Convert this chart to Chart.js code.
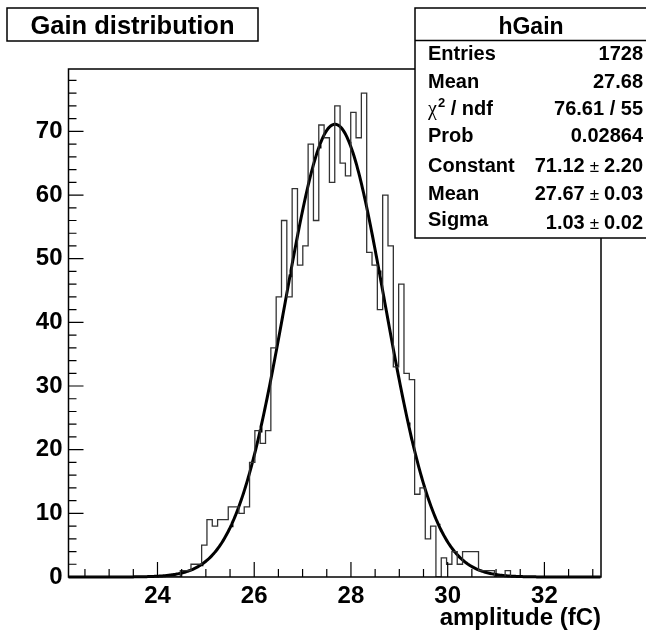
<!DOCTYPE html>
<html>
<head>
<meta charset="utf-8">
<title>Gain distribution</title>
<script src="https://cdn.jsdelivr.net/npm/chart.js@4.4.1/dist/chart.umd.min.js"></script>
<style>
  html, body { margin: 0; padding: 0; background: #fff; }
  #wrap { position: relative; width: 646px; height: 631px; }
</style>
</head>
<body>
<div id="wrap"><canvas id="gain" width="646" height="631"></canvas></div>
<script>
// hGain histogram, 100 bins, counts
const histLow = 22.16
const histHigh = 33.17
const binCounts = [
  0, 0, 0, 0, 0, 0, 0, 0, 0, 0,
  0, 0, 0, 0, 0, 0, 0, 0, 0, 0,
  0, 1, 1, 2, 2, 5, 9, 8, 9, 9,
  11, 11, 10, 11, 18, 23, 21, 23, 36, 44,
  56, 44, 61, 49, 52, 68, 56, 71, 69, 62,
  74, 65, 63, 73, 69, 76, 51, 49, 42, 60,
  52, 33, 46, 32, 31, 13, 14, 6, 8, 0,
  3, 2, 4, 2, 4, 4, 4, 1, 1, 1,
  0, 0, 1, 0, 0, 0, 0, 0, 0, 0,
  0, 0, 0, 0, 0, 0, 0, 0, 0, 0
]
const xTickLabels = [24, 26, 28, 30, 32]
const yTickLabels = [0, 10, 20, 30, 40, 50, 60, 70]
const yMax = 79.8

// gaus fit, parameters as printed in the stats box
const fitConstant = 71.12
const fitMean = 27.67
const fitSigma = 1.03

const statsTitle = "hGain"
const statsLabels = ["Entries", "Mean", "χ2 / ndf", "Prob", "Constant", "Mean", "Sigma"]
const statsValues = ["1728", "27.68", "76.61 / 55", "0.02864", "71.12 ± 2.20", "27.67 ± 0.03", "1.03 ± 0.02"]

const FONT = '"Liberation Sans", Arial, Helvetica, sans-serif'

// ----- build datasets -----
const binWidth = (histHigh - histLow) / binCounts.length
const histPoints = binCounts.map((c, i) => ({ x: histLow + i * binWidth, y: c }))
histPoints.push({ x: histHigh, y: binCounts[binCounts.length - 1] })

const fitPoints = []
for (let x = histLow; x <= histHigh + 1e-9; x += 0.02) {
  const z = (x - fitMean) / fitSigma
  fitPoints.push({ x, y: fitConstant * Math.exp(-0.5 * z * z) })
}

// ----- ROOT-like frame, inward ticks, title box and stats box -----
const rootDecor = {
  id: "rootDecor",
  afterDatasetsDraw(chart) {
    const { ctx, chartArea: a, scales: { x, y } } = chart
    ctx.save()
    ctx.strokeStyle = "#000"
    ctx.lineWidth = 1.5
    ctx.strokeRect(a.left, a.top, a.right - a.left, a.bottom - a.top)

    ctx.lineWidth = 1.2
    ctx.beginPath()
    for (let v = 0; v <= yMax; v += 2) {
      const py = y.getPixelForValue(v)
      const len = v % 10 === 0 ? 15 : 8
      ctx.moveTo(a.left, py)
      ctx.lineTo(a.left + len, py)
    }
    for (let k = Math.ceil(histLow * 2); k <= Math.floor(histHigh * 2); k++) {
      const px = x.getPixelForValue(k / 2)
      const len = k % 4 === 0 ? 15 : 8
      ctx.moveTo(px, a.bottom)
      ctx.lineTo(px, a.bottom - len)
    }
    ctx.stroke()
    ctx.restore()
  },
  afterDraw(chart) {
    const { ctx } = chart
    ctx.save()
    ctx.fillStyle = "#fff"
    ctx.strokeStyle = "#000"
    ctx.lineWidth = 1.5

    // title box
    ctx.fillRect(7, 8, 251, 33)
    ctx.strokeRect(7, 8, 251, 33)
    ctx.fillStyle = "#000"
    ctx.textAlign = "center"
    ctx.textBaseline = "alphabetic"
    ctx.font = "bold 25.5px " + FONT
    ctx.fillText("Gain distribution", 132.5, 34)

    // stats box
    ctx.fillStyle = "#fff"
    ctx.fillRect(415, 8, 240, 230)
    ctx.strokeRect(415, 8, 240, 230)
    ctx.beginPath()
    ctx.moveTo(415, 40.5)
    ctx.lineTo(646, 40.5)
    ctx.stroke()

    ctx.fillStyle = "#000"
    ctx.font = "bold 23px " + FONT
    ctx.fillText(statsTitle, 531, 33.5)

    const baselines = [60, 87.5, 115, 142, 171.5, 199.5, 226]
    const valueShift = [0, 0, 0, 0, 0, 0, 3]
    const right = 643
    statsLabels.forEach((label, i) => {
      const by = baselines[i]
      ctx.textAlign = "left"
      if (label.startsWith("χ2")) {
        ctx.font = "20px \"Liberation Serif\", serif"
        ctx.fillText("χ", 428, by)
        let w = ctx.measureText("χ").width
        ctx.font = "bold 13px " + FONT
        ctx.fillText("2", 428 + w + 1, by - 8)
        w += ctx.measureText("2").width + 1
        ctx.font = "bold 20px " + FONT
        ctx.fillText(label.slice(2), 428 + w, by)
      } else {
        ctx.font = "bold 20px " + FONT
        ctx.fillText(label, 428, by)
      }

      // value, right aligned; the ± sign is thinner, as in ROOT
      const vy = by + valueShift[i]
      const parts = statsValues[i].split(" ± ")
      ctx.textAlign = "right"
      ctx.font = "bold 20px " + FONT
      if (parts.length === 1) {
        ctx.fillText(parts[0], right, vy)
      } else {
        ctx.fillText(parts[1], right, vy)
        let xr = right - ctx.measureText(parts[1]).width - 5
        ctx.font = "17px " + FONT
        ctx.fillText("±", xr, vy)
        xr -= ctx.measureText("±").width + 5
        ctx.font = "bold 20px " + FONT
        ctx.fillText(parts[0], xr, vy)
      }
    })
    ctx.restore()
  }
}

const axisFont = { family: FONT, size: 24, weight: "bold" }

new Chart(document.getElementById("gain"), {
  type: "line",
  data: {
    datasets: [
      {
        label: "hGain",
        data: histPoints,
        stepped: true,
        borderColor: "#333",
        borderWidth: 1.3,
        pointRadius: 0,
        fill: false
      },
      {
        label: "gaus",
        data: fitPoints,
        borderColor: "#000",
        borderWidth: 3,
        pointRadius: 0,
        fill: false,
        tension: 0,
        clip: 3
      }
    ]
  },
  options: {
    responsive: false,
    devicePixelRatio: 1,
    animation: false,
    layout: { padding: { top: 69, right: 45, left: 0, bottom: 0 } },
    plugins: { legend: { display: false }, tooltip: { enabled: false } },
    scales: {
      x: {
        type: "linear",
        min: histLow,
        max: histHigh,
        grid: { display: false, drawTicks: false },
        border: { display: false },
        afterBuildTicks: s => { s.ticks = xTickLabels.map(v => ({ value: v })) },
        afterFit: s => { s.height = 54 },
        ticks: { color: "#000", font: axisFont, padding: 5, maxRotation: 0, autoSkip: false },
        title: {
          display: true,
          text: "amplitude (fC)",
          align: "end",
          color: "#000",
          font: axisFont,
          padding: { top: 0, bottom: -2 }
        }
      },
      y: {
        type: "linear",
        min: 0,
        max: yMax,
        grid: { display: false, drawTicks: false },
        border: { display: false },
        afterBuildTicks: s => { s.ticks = yTickLabels.map(v => ({ value: v })) },
        afterFit: s => { s.width = 68.5 },
        ticks: { color: "#000", font: axisFont, padding: 6, autoSkip: false }
      }
    }
  },
  plugins: [rootDecor]
})
</script>
</body>
</html>
